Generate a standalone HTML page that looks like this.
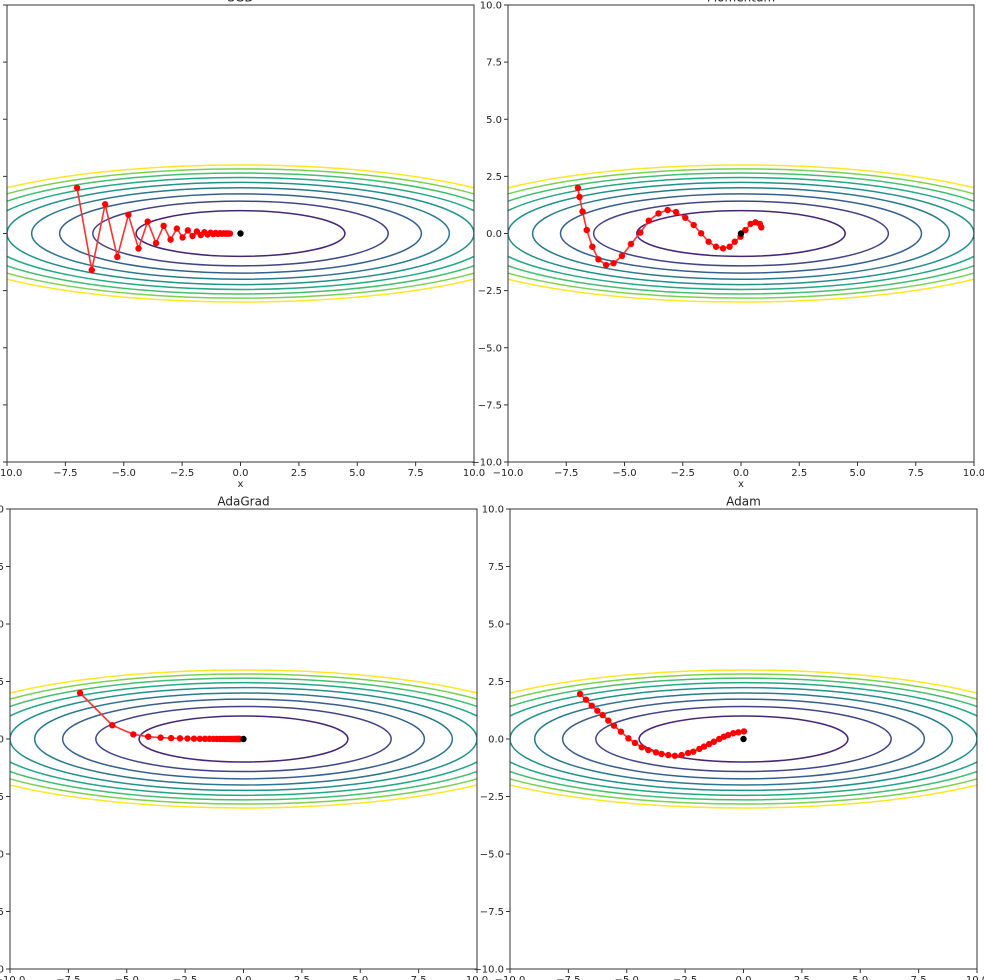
<!DOCTYPE html>
<html><head><meta charset="utf-8">
<style>
html,body{margin:0;padding:0;background:#fff;width:984px;height:980px;overflow:hidden}
svg{display:block}
text{font-family:"DejaVu Sans","Liberation Sans",sans-serif;font-size:10px;fill:#222}
</style></head>
<body>
<svg id="fig" width="984" height="980" viewBox="0 0 984 980" xmlns="http://www.w3.org/2000/svg"></svg>
<script>
const tickValues=[-10,-7.5,-5,-2.5,0,2.5,5,7.5,10];
const tickLabels=["\u221210.0","\u22127.5","\u22125.0","\u22122.5","0.0","2.5","5.0","7.5","10.0"];
const contourLevels=[1,2,3,4,5,6,7,8,9];
const contourColors=["#482475","#414487","#355f8d","#2a788e","#21918c","#22a884","#44bf70","#7ad151","#fde725"];
const sgdX=[-7,-6.37,-5.797,-5.275,-4.8,-4.368,-3.975,-3.617,-3.292,-2.995,-2.726,-2.48,-2.257,-2.054,-1.869,-1.701,-1.548,-1.409,-1.282,-1.166,-1.061,-0.966,-0.879,-0.8,-0.728,-0.662,-0.603,-0.548,-0.499,-0.454];
const sgdY=[2,-1.6,1.28,-1.024,0.819,-0.655,0.524,-0.419,0.336,-0.268,0.215,-0.172,0.137,-0.11,0.088,-0.07,0.056,-0.045,0.036,-0.029,0.023,-0.018,0.015,-0.012,0.009,-0.008,0.006,-0.005,0.004,-0.003];
const momX=[-7,-6.93,-6.8,-6.62,-6.38,-6.12,-5.79,-5.47,-5.11,-4.72,-4.32,-3.96,-3.54,-3.15,-2.79,-2.39,-2.03,-1.71,-1.39,-1.07,-0.77,-0.49,-0.27,-0.02,0.19,0.41,0.62,0.81,0.87];
const momY=[2,1.6,0.96,0.15,-0.58,-1.13,-1.38,-1.3,-0.98,-0.46,0.04,0.56,0.88,1.03,0.94,0.69,0.37,0.01,-0.36,-0.58,-0.65,-0.58,-0.36,-0.14,0.15,0.42,0.49,0.42,0.27];
const adagradX=[-7,-5.62,-4.72,-4.08,-3.55,-3.1,-2.72,-2.4,-2.12,-1.87,-1.65,-1.46,-1.29,-1.14,-1,-0.88,-0.78,-0.69,-0.61,-0.54,-0.48,-0.42,-0.37,-0.33,-0.29,-0.26,-0.23,-0.2,-0.18,-0.16];
const adagradY=[2,0.6,0.2,0.1,0.06,0.04,0.03,0.02,0.015,0.01,0.008,0.006,0.004,0.003,0.002,0.002,0.001,0.001,0.001,0,0,0,0,0,0,0,0,0,0,0];
const adamX=[-7,-6.75,-6.5,-6.26,-6.03,-5.79,-5.55,-5.25,-4.93,-4.65,-4.36,-4.08,-3.75,-3.51,-3.22,-2.94,-2.65,-2.37,-2.15,-1.89,-1.69,-1.47,-1.27,-1.04,-0.84,-0.66,-0.44,-0.22,0.02];
const adamY=[1.96,1.71,1.45,1.23,1.04,0.8,0.58,0.32,0.03,-0.17,-0.36,-0.48,-0.58,-0.65,-0.7,-0.73,-0.7,-0.61,-0.55,-0.43,-0.33,-0.22,-0.12,0,0.1,0.17,0.25,0.29,0.33];

const NS="http://www.w3.org/2000/svg";
const svg=document.getElementById('fig');
function mk(tag,attrs,parent){const e=document.createElementNS(NS,tag);for(const k in attrs)e.setAttribute(k,attrs[k]);(parent||svg).appendChild(e);return e;}

const panels=[
 {key:'sgd',title:'SGD',box:[7,5,467,457],xs:sgdX,ys:sgdY,ylabels:false},
 {key:'momentum',title:'Momentum',box:[508,5,466,457],xs:momX,ys:momY,ylabels:true},
 {key:'adagrad',title:'AdaGrad',box:[10,509,467,460],xs:adagradX,ys:adagradY,ylabels:true},
 {key:'adam',title:'Adam',box:[510,509,467,460],xs:adamX,ys:adamY,ylabels:true}
];

panels.forEach((p,pi)=>{
  const [L,T,W,H]=p.box;
  const sx=v=>L+(v+10)/20*W;
  const sy=v=>T+(10-v)/20*H;
  const g=mk('g',{});
  
  
  const cid='clip'+pi;
  const cp=mk('clipPath',{id:cid},g);
  mk('rect',{x:L,y:T,width:W,height:H},cp);
  const cg=mk('g',{'clip-path':'url(#'+cid+')'},g);
  contourLevels.forEach((c,ci)=>{
    const a=Math.sqrt(20*c),b=Math.sqrt(c);
    const e=mk('ellipse',{cx:sx(0),cy:sy(0),rx:sx(a)-sx(0),ry:sy(0)-sy(b),fill:'none',stroke:contourColors[ci],'stroke-width':1.5},cg);
    
    
  });
  let d='';
  p.xs.forEach((x,i)=>{d+=(i?'L':'M')+sx(x).toFixed(2)+','+sy(p.ys[i]).toFixed(2);});
  const path=mk('path',{d:d,fill:'none',stroke:'#ff3030','stroke-width':1.6},cg);
  
  
  p.xs.forEach((x,i)=>{
    const c=mk('circle',{cx:sx(x),cy:sy(p.ys[i]),r:3.2,fill:'#ff0000'},cg);
    
    
  });
  const m=mk('circle',{cx:sx(0),cy:sy(0),r:3.2,fill:'#000'},cg);
  
  
  const fr=mk('rect',{x:L,y:T,width:W,height:H,fill:'none',stroke:'#333','stroke-width':1},g);
  
  
  tickValues.forEach((v,i)=>{
    mk('line',{x1:sx(v),y1:T+H,x2:sx(v),y2:T+H+4,stroke:'#333'},g);
    const tx=mk('text',{x:sx(v),y:T+H+14,'text-anchor':'middle'},g);
    tx.textContent=tickLabels[i];
    
    
    mk('line',{x1:L-4,y1:sy(v),x2:L,y2:sy(v),stroke:'#333'},g);
    if(p.ylabels){
      const ty=mk('text',{x:L-6,y:sy(v)+3.5,'text-anchor':'end'},g);
      ty.textContent=tickLabels[i];
      
      
    }
  });
  const tt=mk('text',{x:L+W/2,y:T-3.5,'text-anchor':'middle',style:'font-size:12px'},g);
  tt.textContent=p.title;
  
  
  const xl=mk('text',{x:L+W/2,y:T+H+25,'text-anchor':'middle'},g);
  xl.textContent='x';
  
  
});
</script>
</body></html>
